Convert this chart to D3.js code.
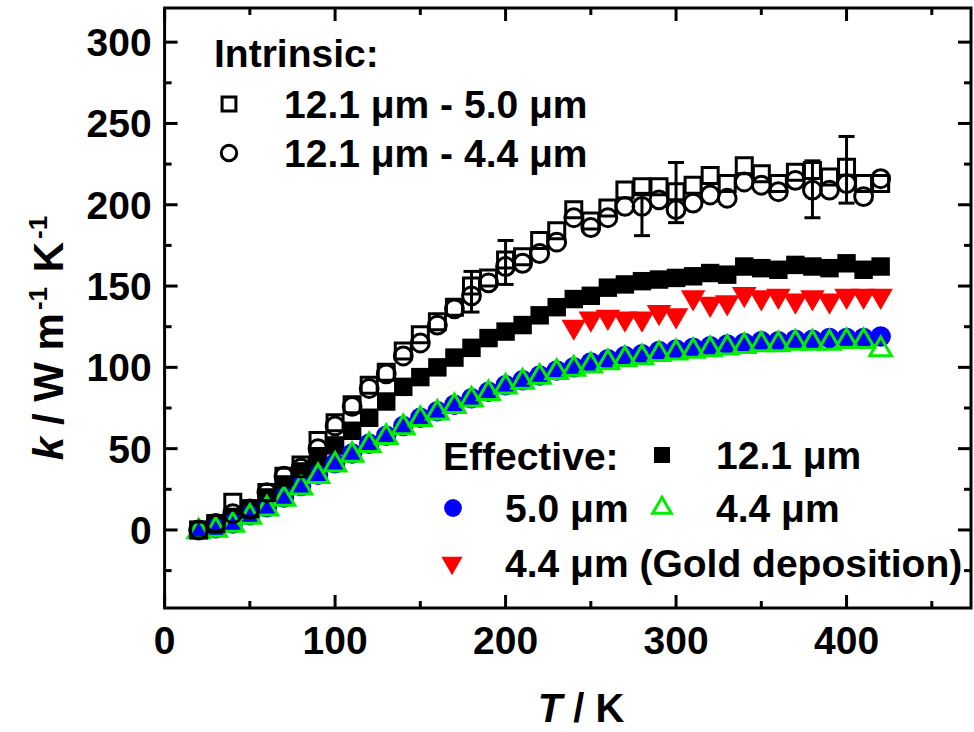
<!DOCTYPE html>
<html>
<head>
<meta charset="utf-8">
<script src="https://cdn.jsdelivr.net/npm/d3@7/dist/d3.min.js"></script>
<style>
  body { margin: 0; background: #fff; }
  svg { display: block; }
  text { font-family: "Liberation Sans", Arial, sans-serif; font-weight: bold; fill: #000; }
</style>
</head>
<body>
<div id="chart"></div>
<script>
// temperatures (K)
const temps = [20, 30, 40, 50, 60, 70, 80, 90, 100, 110, 120, 130, 140, 150, 160, 170, 180, 190, 200, 210,
  220, 230, 240, 250, 260, 270, 280, 290, 300, 310, 320, 330, 340, 350, 360, 370, 380, 390, 400, 410, 420];
const goldTemps = [240, 250, 260, 270, 280, 290, 300, 310, 320, 330, 340, 350, 360, 370, 380, 390, 400, 410, 420];

// intrinsic
const intr121_50 = [0, 4, 17, 13, 23, 33, 40, 55, 66, 77, 89, 97, 110, 120, 128, 137, 150, 155, 166, 168,
  178, 184, 197, 190, 198, 209, 211, 211, 208, 212, 218, 213, 224, 219, 213, 220, 221, 217, 223, 213, 213];
const intr121_44 = [0, 4, 10, 13, 23, 33, 38, 50, 64, 76, 87, 96, 107, 115, 126, 136, 144, 152, 162, 164,
  170, 177, 192, 186, 192, 199, 199, 203, 197, 201, 206, 204, 214, 212, 208, 215, 209, 209, 213, 205, 216];

// effective
const eff121 = [0, 3, 8, 13, 20, 28, 36, 44, 52, 61, 69, 79, 88, 94, 100, 106, 112, 118, 122, 126,
  132, 137, 142, 144, 149, 151, 153, 154, 155, 156, 158, 157, 162, 161, 160, 163, 162, 161, 164, 160, 162];
const eff50 = [0, 1, 4, 9, 14, 20, 27, 34, 41, 47, 53, 58, 64, 69, 73, 77, 81, 85, 89, 92,
  95, 98, 100, 103, 105, 107, 108, 110, 111, 112, 113, 114, 115, 116, 116, 117, 117, 118, 118, 118, 119];
const eff44 = [-1, 0, 3, 8, 13, 19, 26, 33, 40, 46, 52, 57, 63, 68, 72, 76, 80, 84, 88, 91,
  94, 97, 99, 101, 103, 105, 106, 108, 109, 110, 111, 112, 113, 114, 114, 115, 115, 115, 116, 116, 111];
const eff44gold = [125, 130, 131, 130, 130, 134, 132, 143, 139, 140, 145, 143, 144, 141, 143, 141, 144, 144, 144];

// error bars
const errT = [180, 200, 280, 300, 380, 400];
const errLo = [134, 151, 181, 189, 192, 201];
const errHi = [159, 178, 207, 226, 227, 242];

const width = 974;
const height = 732;
const mLeft = 164.6, mRight = 971, mTop = 8, mBottom = 608;

const svg = d3.select('#chart').append('svg').attr('width', width).attr('height', height);

const x = d3.scaleLinear().domain([0, 473]).range([mLeft, mRight]);
const y = d3.scaleLinear().domain([-48, 321]).range([mBottom, mTop]);

// ticks (inward, mirrored on all sides)
const xMajor = [0, 100, 200, 300, 400];
const xMinor = [50, 150, 250, 350, 450];
const yMajor = [0, 50, 100, 150, 200, 250, 300];
const yMinor = [-25, 25, 75, 125, 175, 225, 275];

const axes = svg.append('g').attr('stroke', '#000').attr('stroke-width', 3);
function tickX(v, len) {
  axes.append('line').attr('x1', x(v)).attr('x2', x(v)).attr('y1', mBottom).attr('y2', mBottom - len);
  axes.append('line').attr('x1', x(v)).attr('x2', x(v)).attr('y1', mTop).attr('y2', mTop + len);
}
function tickY(v, len) {
  axes.append('line').attr('y1', y(v)).attr('y2', y(v)).attr('x1', mLeft).attr('x2', mLeft + len);
  axes.append('line').attr('y1', y(v)).attr('y2', y(v)).attr('x1', mRight).attr('x2', mRight - len);
}
xMajor.forEach((v) => tickX(v, 13));
xMinor.forEach((v) => tickX(v, 7));
yMajor.forEach((v) => tickY(v, 13));
yMinor.forEach((v) => tickY(v, 7));
axes.append('rect')
  .attr('x', mLeft).attr('y', mTop)
  .attr('width', mRight - mLeft).attr('height', mBottom - mTop)
  .attr('fill', 'none');

// tick labels
svg.append('g').selectAll('text').data(xMajor).join('text')
  .attr('x', (d) => x(d)).attr('y', mBottom + 46)
  .attr('text-anchor', 'middle').style('font-size', '39px')
  .text((d) => d);
svg.append('g').selectAll('text').data(yMajor).join('text')
  .attr('x', mLeft - 13).attr('y', (d) => y(d) + 14)
  .attr('text-anchor', 'end').style('font-size', '39px')
  .text((d) => d);

// axis titles
const xt = svg.append('text').attr('x', 581).attr('y', 722).attr('text-anchor', 'middle').style('font-size', '40px');
xt.append('tspan').style('font-style', 'italic').text('T');
xt.append('tspan').text(' / K');

const yt = svg.append('text')
  .attr('transform', 'translate(63,338) rotate(-90)')
  .attr('text-anchor', 'middle').style('font-size', '42px');
yt.append('tspan').style('font-style', 'italic').text('k');
yt.append('tspan').text(' / W m');
yt.append('tspan').attr('dx', 3).attr('dy', -16).style('font-size', '26px').text('-1');
yt.append('tspan').attr('dx', 3).attr('dy', 16).text(' K');
yt.append('tspan').attr('dx', 3).attr('dy', -16).style('font-size', '26px').text('-1');

// markers
const sym = {
  openSquare: { type: d3.symbolSquare, size: 256, fill: 'none', stroke: '#000', sw: 3 },
  openCircle: { type: d3.symbolCircle, size: 250, fill: 'none', stroke: '#000', sw: 3 },
  filledSquare: { type: d3.symbolSquare, size: 340, fill: '#000', stroke: 'none', sw: 0 },
  blueCircle: { type: d3.symbolCircle, size: 330, fill: '#0000ff', stroke: 'none', sw: 0 },
  greenTri: { type: d3.symbolTriangle, size: 200, fill: 'none', stroke: '#00ee00', sw: 3 },
  redTri: { type: d3.symbolTriangle, size: 260, fill: '#ff0000', stroke: 'none', sw: 0, rot: 180 },
};

function drawSeries(xs, ys, s) {
  const g = svg.append('g');
  g.selectAll('path').data(xs.map((t, i) => [t, ys[i]])).join('path')
    .attr('d', d3.symbol().type(s.type).size(s.size))
    .attr('transform', (d) => `translate(${x(d[0])},${y(d[1])})` + (s.rot ? ` rotate(${s.rot})` : ''))
    .attr('fill', s.fill).attr('stroke', s.stroke).attr('stroke-width', s.sw);
}

drawSeries(temps, eff121, sym.filledSquare);
drawSeries(temps, eff50, sym.blueCircle);
drawSeries(temps, eff44, sym.greenTri);
drawSeries(goldTemps, eff44gold, sym.redTri);
drawSeries(temps, intr121_50, sym.openSquare);
drawSeries(temps, intr121_44, sym.openCircle);

// error bars
const eb = svg.append('g').attr('stroke', '#000').attr('stroke-width', 3);
errT.forEach((t, i) => {
  eb.append('line').attr('x1', x(t)).attr('x2', x(t)).attr('y1', y(errLo[i])).attr('y2', y(errHi[i]));
  eb.append('line').attr('x1', x(t) - 8).attr('x2', x(t) + 8).attr('y1', y(errLo[i])).attr('y2', y(errLo[i]));
  eb.append('line').attr('x1', x(t) - 8).attr('x2', x(t) + 8).attr('y1', y(errHi[i])).attr('y2', y(errHi[i]));
});

// legend
const leg = svg.append('g');
function legItem(s, mx, my, tx, label) {
  const sz = s.size * 0.75;
  leg.append('path')
    .attr('d', d3.symbol().type(s.type).size(sz))
    .attr('transform', `translate(${mx},${my})` + (s.rot ? ` rotate(${s.rot})` : ''))
    .attr('fill', s.fill).attr('stroke', s.stroke).attr('stroke-width', s.sw);
  leg.append('text').attr('x', tx).attr('y', my + 14).style('font-size', '39px').text(label);
}
leg.append('text').attr('x', 214).attr('y', 67).style('font-size', '39px').text('Intrinsic:');
legItem(sym.openSquare, 229, 104, 284, '12.1 μm - 5.0 μm');
legItem(sym.openCircle, 229, 153, 284, '12.1 μm - 4.4 μm');
leg.append('text').attr('x', 443).attr('y', 470).style('font-size', '39px').text('Effective:');
legItem(sym.filledSquare, 662, 455, 716, '12.1 μm');
legItem(sym.blueCircle, 453, 508, 505, '5.0 μm');
legItem(sym.greenTri, 662, 508, 716, '4.4 μm');
legItem(sym.redTri, 452, 563, 505, '4.4 μm (Gold deposition)');
</script>
</body>
</html>
